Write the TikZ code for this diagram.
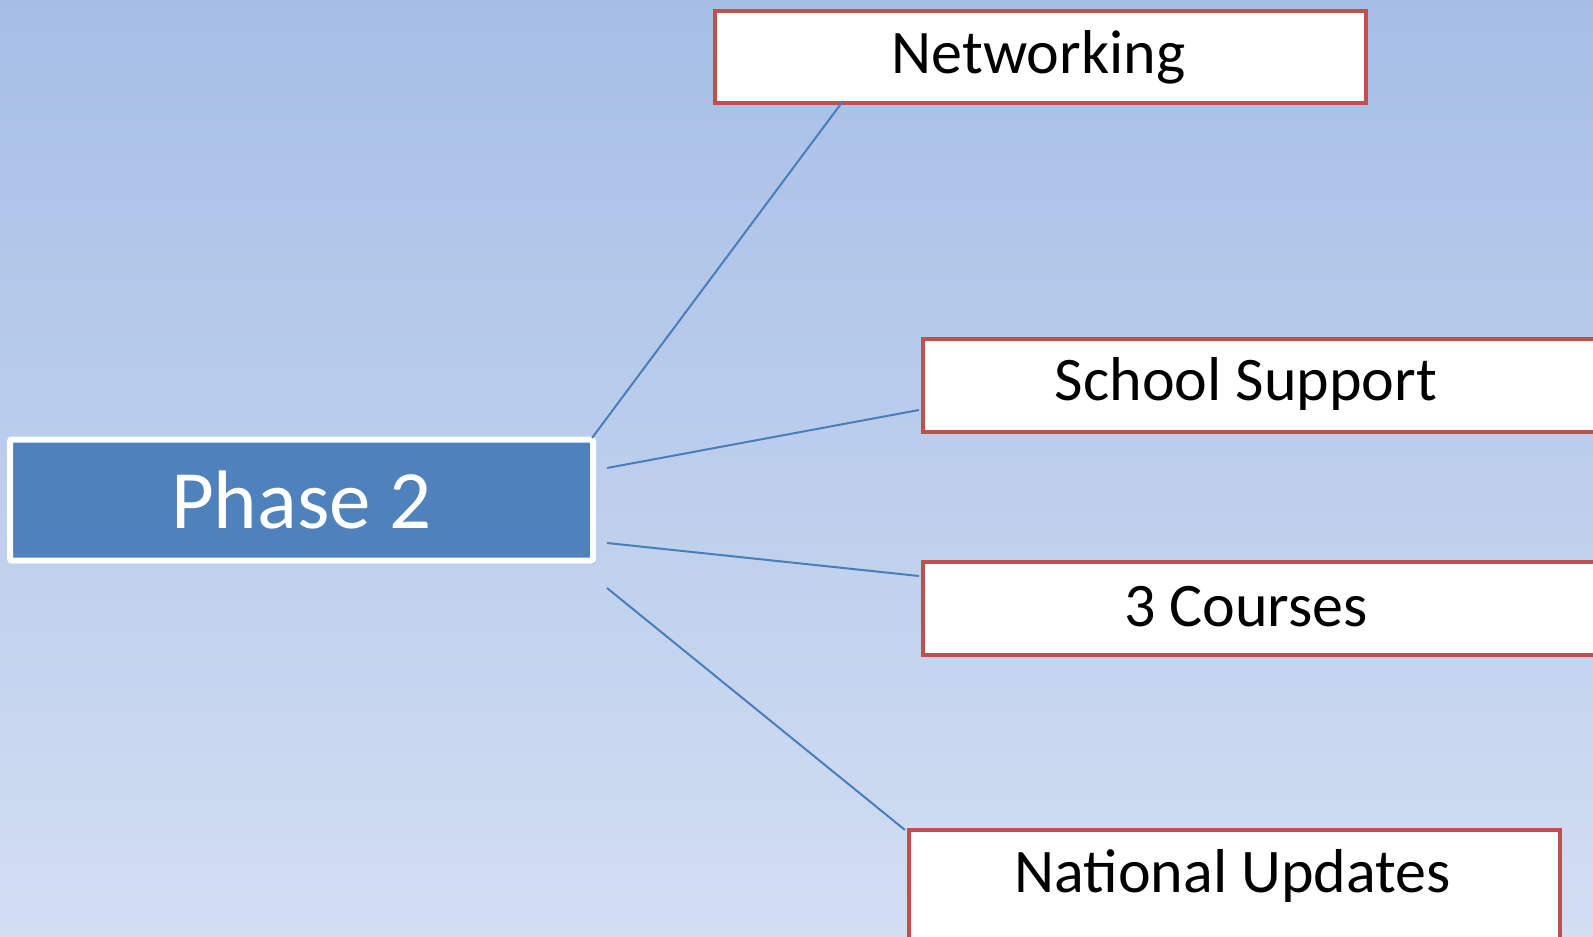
\documentclass[tikz,border=0pt]{standalone}
\usepackage{fontspec}
\setmainfont{Carlito}
\usetikzlibrary{shadows}
\definecolor{bgtop}{RGB}{166,190,230}
\definecolor{bgbot}{RGB}{210,222,242}
\definecolor{phaseblue}{RGB}{79,129,189}
\definecolor{boxred}{RGB}{192,80,77}
\definecolor{linkblue}{RGB}{74,126,187}
\tikzset{
  phasebox/.style={fill=phaseblue, draw=white, line width=3pt, rounded corners=1pt,
    drop shadow={shadow xshift=1pt, shadow yshift=-1.5pt, opacity=0.35, fill=black!60},
    text=white, font=\fontsize{41.5}{50}\selectfont, inner sep=0pt},
  redbox/.style={fill=white, draw=boxred, line width=2pt, inner sep=0pt, anchor=north west},
  lbl/.style={text=black, font=\fontsize{31}{37}\selectfont, inner sep=0pt},
  link/.style={draw=linkblue, line width=1pt}
}
\begin{document}
\begin{tikzpicture}[x=0.5pt,y=-0.5pt]
\useasboundingbox (0,0) rectangle (1593,936);
\clip (0,0) rectangle (1593,936);
\shade[top color=bgtop, bottom color=bgbot] (0,0) rectangle (1593,936);
% central node
\node[phasebox, minimum width=291.5pt, minimum height=60.5pt] (phase) at (301.5,500) {Phase 2};
% boxes
\node[redbox, minimum width=325.5pt, minimum height=46pt] (net) at (713,9) {};
\node[lbl] (nett) at (1038.5,57) {Networking};
\node[redbox, minimum width=349.5pt, minimum height=46.5pt] (ss) at (921,337) {};
\node[lbl] (sst) at (1246,384) {School Support};
\node[redbox, minimum width=349.5pt, minimum height=46.5pt] (cs) at (921,560) {};
\node[lbl] (cst) at (1246,607) {3 Courses};
\node[redbox, minimum width=325.5pt, minimum height=60pt] (nu) at (907,828) {};
\node[lbl] (nut) at (1232.5,876) {National Updates};
% connector ends
\coordinate (p1) at (592,438);
\coordinate (p2) at (607,468);
\coordinate (p3) at (607,543);
\coordinate (p4) at (607,588);
\coordinate (e1) at (843,101);
\coordinate (e2) at (919,410);
\coordinate (e3) at (919,576);
\coordinate (e4) at (905,830);
\begin{scope}[on background layer/.style={}]
\end{scope}
\draw[link] (p1) -- (e1);
\draw[link] (p2) -- (e2);
\draw[link] (p3) -- (e3);
\draw[link] (p4) -- (e4);
\end{tikzpicture}
\end{document}
